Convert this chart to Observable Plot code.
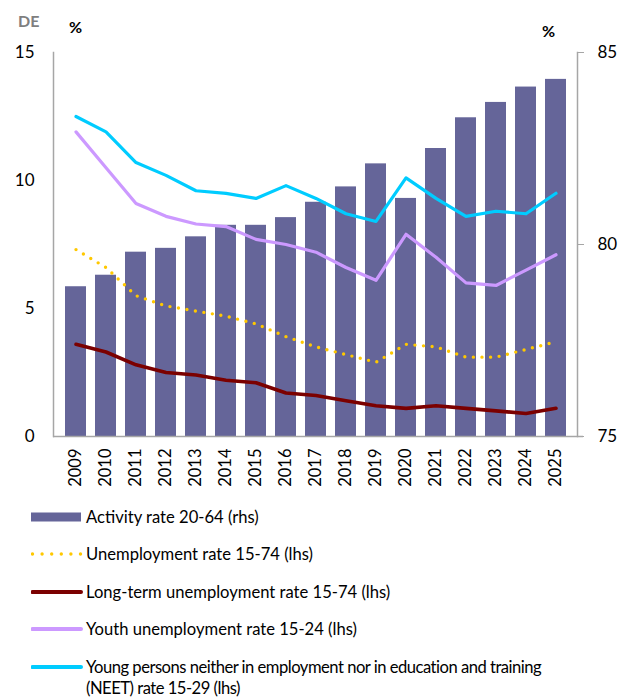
<!DOCTYPE html>
<html><head><meta charset="utf-8">
<script src="https://cdn.jsdelivr.net/npm/d3@7"></script>
<script src="https://cdn.jsdelivr.net/npm/@observablehq/plot@0.6"></script>
<style>
body{margin:0;background:#fff;font-family:Lato, sans-serif;}
#wrap{position:relative;width:621px;height:697px;overflow:hidden;}
#chart{position:absolute;left:0;top:0;}
.lab{position:absolute;font-weight:bold;font-size:16px;line-height:1;}
.leg{position:absolute;left:86px;font-size:16.6px;line-height:21px;color:#000;white-space:nowrap;}
.sw{position:absolute;left:31px;}
</style></head><body><div id="wrap"><div id="chart"></div>
<div class="lab" style="left:18px;top:13px;color:#7F7F7F">DE</div>
<div class="lab" style="left:69px;top:19px;color:#000">%</div>
<div class="lab" style="left:542px;top:23px;color:#000">%</div>
</div>
<script>
const years = ["2009","2010","2011","2012","2013","2014","2015","2016","2017","2018","2019","2020","2021","2022","2023","2024","2025"];
const activity = [78.9,79.2,79.8,79.9,80.2,80.5,80.5,80.7,81.1,81.5,82.1,81.2,82.5,83.3,83.7,84.1,84.3];
const unemployment = [7.3,6.6,5.5,5.1,4.9,4.7,4.4,3.9,3.5,3.2,2.9,3.6,3.5,3.1,3.1,3.4,3.7];
const longTerm = [3.6,3.3,2.8,2.5,2.4,2.2,2.1,1.7,1.6,1.4,1.2,1.1,1.2,1.1,1.0,0.9,1.1];
const youth = [11.9,10.5,9.1,8.6,8.3,8.2,7.7,7.5,7.2,6.6,6.1,7.9,7.0,6.0,5.9,6.5,7.1];
const neet = [12.5,11.9,10.7,10.2,9.6,9.5,9.3,9.8,9.3,8.7,8.4,10.1,9.3,8.6,8.8,8.7,9.5];
const rhsTicks = [75,80,85];
const lhsTicks = [0,5,10,15];

const legendLabels = [
  "Activity rate 20-64 (rhs)",
  "Unemployment rate 15-74 (lhs)",
  "Long-term unemployment rate 15-74 (lhs)",
  "Youth unemployment rate 15-24 (lhs)",
  "Young persons neither in employment nor in education and training<br>(NEET) rate 15-29 (lhs)"
];

const toL = v => (v - 75) * 1.5;
const toR = v => 75 + v / 1.5;
const bars = years.map((y, i) => ({year: y, v: activity[i]}));
const rows = (arr) => years.map((y, i) => ({year: y, v: arr[i]}));

const COL = {bar:"#656599", yellow:"#FFC800", dred:"#7B0000", purple:"#CC99FF", cyan:"#00CCFF"};

const plot = Plot.plot({
  width: 621, height: 500,
  marginLeft: 53, marginRight: 44, marginTop: 52, marginBottom: 64,
  style: {fontFamily: "Lato, sans-serif", background: "transparent", color: "#000"},
  x: {type: "band", domain: years, paddingInner: 0.3, paddingOuter: 0.15},
  y: {domain: [0, 15]},
  marks: [
    Plot.barY(bars, {x: "year", y1: 0, y2: d => toL(d.v), fill: COL.bar}),
    Plot.line(rows(neet), {x: "year", y: "v", stroke: COL.cyan, strokeWidth: 3.2}),
    Plot.line(rows(youth), {x: "year", y: "v", stroke: COL.purple, strokeWidth: 3.2}),
    Plot.line(rows(longTerm), {x: "year", y: "v", stroke: COL.dred, strokeWidth: 3.6}),
    Plot.line(rows(unemployment), {x: "year", y: "v", stroke: COL.yellow, strokeWidth: 3.4, strokeDasharray: "0 8.6", strokeLinecap: "round"}),
    Plot.axisY({ticks: lhsTicks, tickSize: 0, tickPadding: 19, fontSize: 17, label: null}),
    Plot.axisY({anchor: "right", ticks: rhsTicks.map(toL), tickFormat: d => String(Math.round(toR(d))), tickSize: 6, tickPadding: 14, fontSize: 17, stroke: "#A6A6A6", fill: "#000", label: null}),
    Plot.axisX({tickRotate: -90, tickSize: 0, tickPadding: 12, fontSize: 16.5, label: null}),
    Plot.frame({anchor: "left", stroke: "#A6A6A6", strokeWidth: 1.5}),
    Plot.frame({anchor: "right", stroke: "#A6A6A6", strokeWidth: 1.5}),
    Plot.ruleY([0], {stroke: "#A6A6A6", strokeWidth: 1.5, insetRight: -6})
  ]
});
document.getElementById("chart").appendChild(plot);

const wrap = document.getElementById("wrap");
const rowY = [517, 554, 592, 629, 667];
legendLabels.forEach((t, i) => {
  const d = document.createElement("div");
  d.className = "leg";
  d.style.top = (rowY[i] - 10.5) + "px";
  if (i === 4) d.style.letterSpacing = "-0.5px";
  d.innerHTML = t;
  wrap.appendChild(d);
  const s = document.createElementNS("http://www.w3.org/2000/svg", "svg");
  s.setAttribute("class", "sw");
  s.setAttribute("width", 52); s.setAttribute("height", 12);
  s.style.top = (rowY[i] - 6) + "px";
  let inner = "";
  if (i === 0) inner = `<rect x="0" y="1.5" width="50" height="9" fill="${COL.bar}"/>`;
  else if (i === 1) inner = `<line x1="1.5" y1="6" x2="50" y2="6" stroke="${COL.yellow}" stroke-width="3.4" stroke-dasharray="0 9.6" stroke-linecap="round"/>`;
  else {
    const c = [null, null, COL.dred, COL.purple, COL.cyan][i];
    inner = `<line x1="1.5" y1="6" x2="50" y2="6" stroke="${c}" stroke-width="4" stroke-linecap="round"/>`;
  }
  s.innerHTML = inner;
  wrap.appendChild(s);
});
</script>
</body></html>
